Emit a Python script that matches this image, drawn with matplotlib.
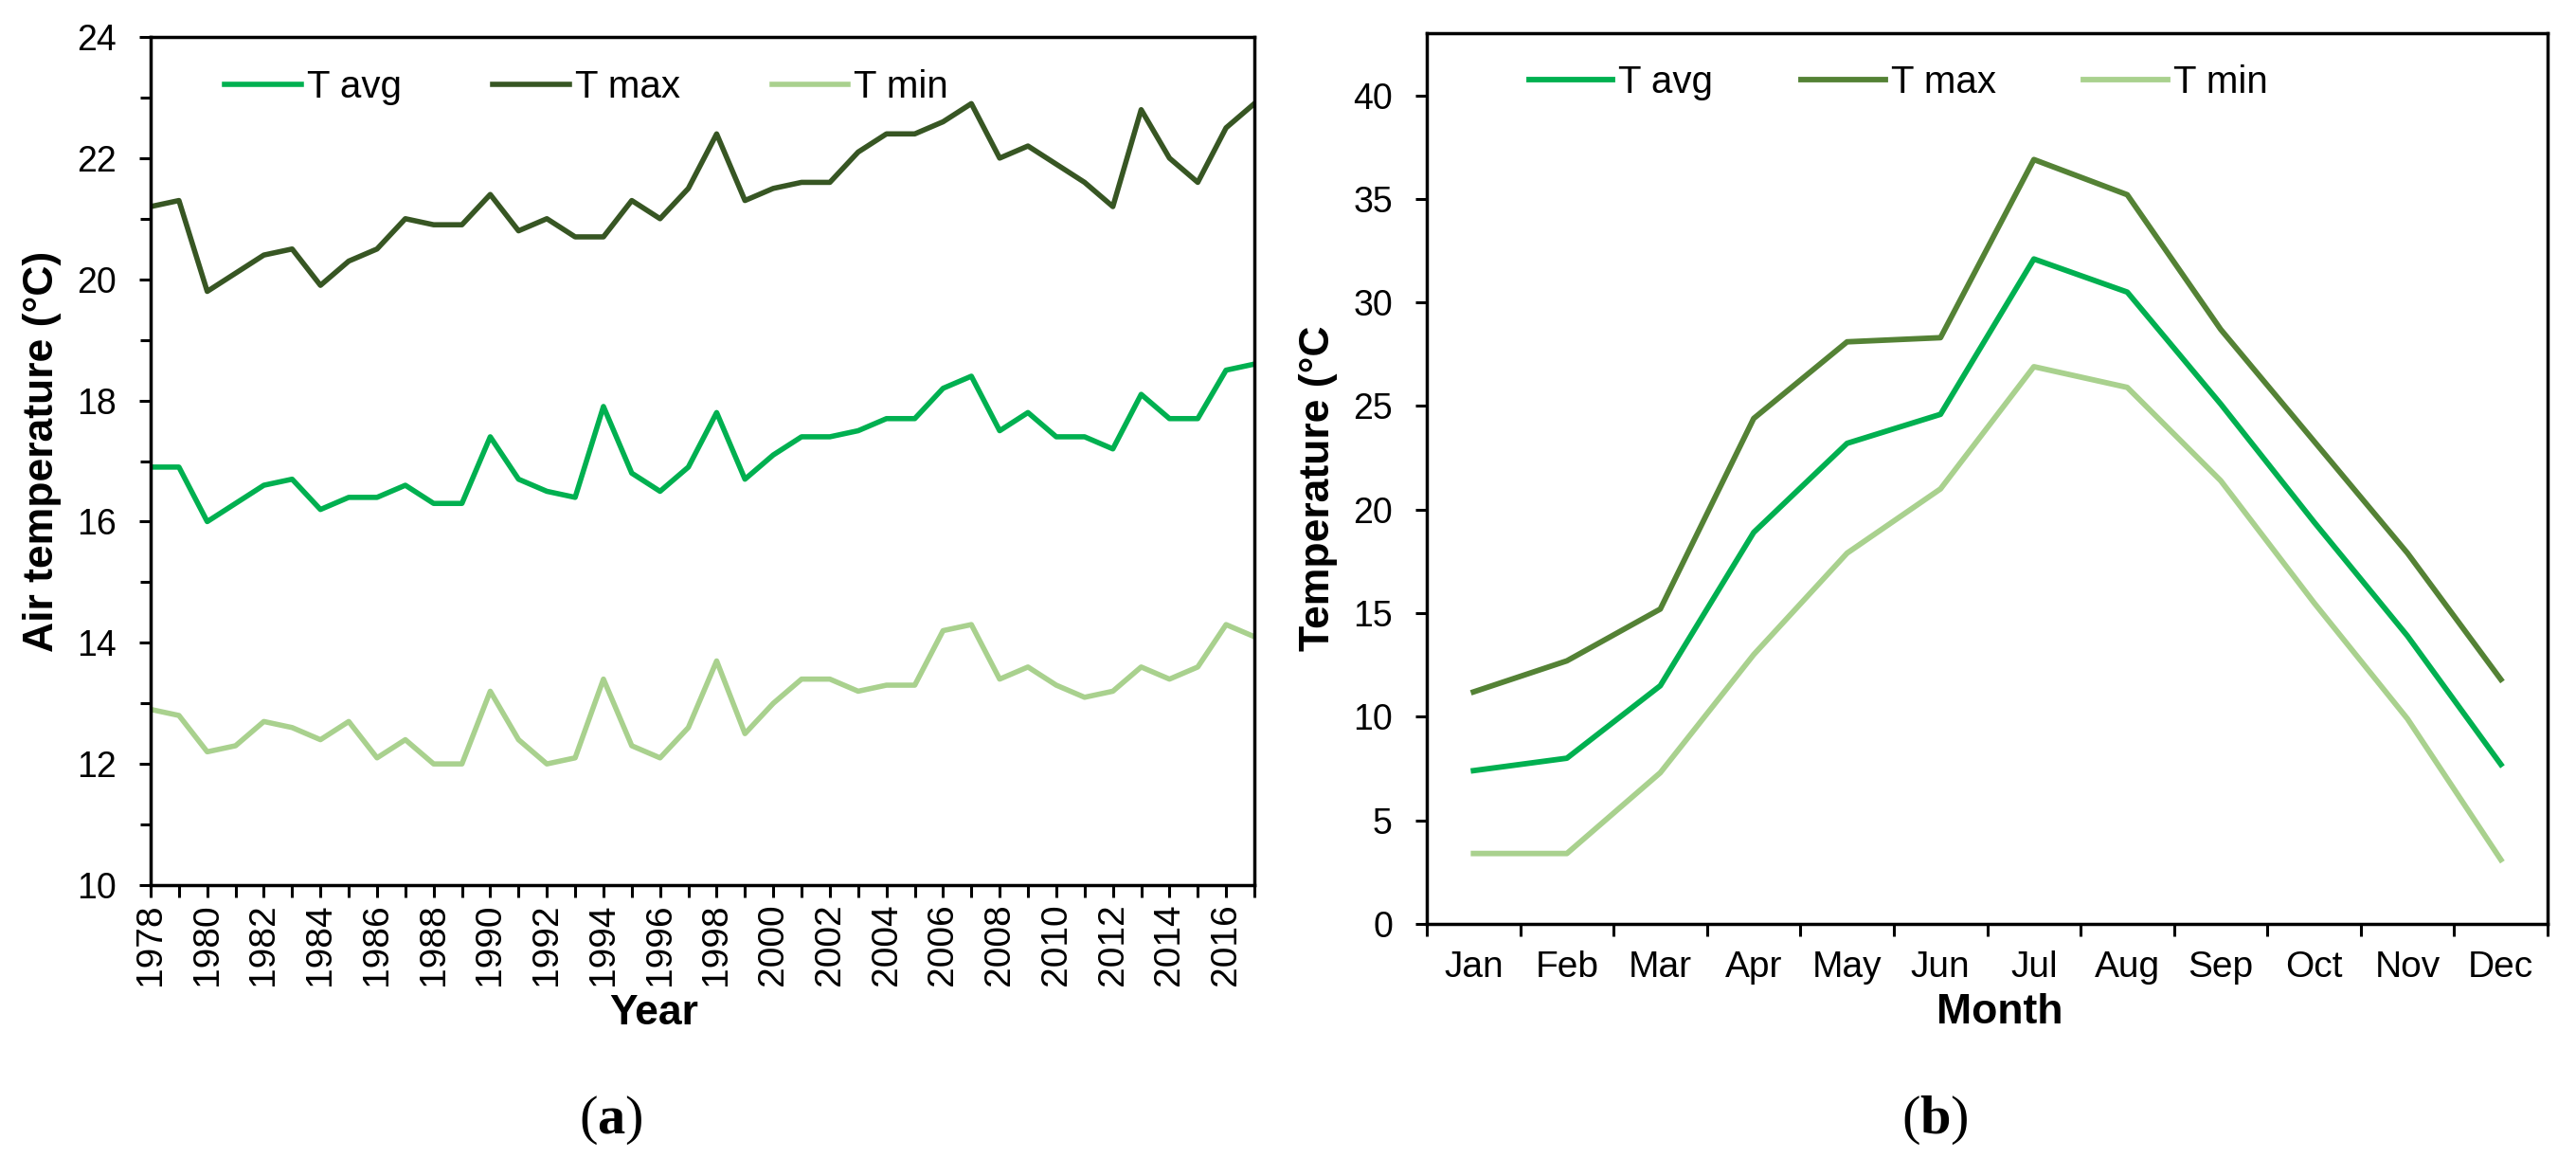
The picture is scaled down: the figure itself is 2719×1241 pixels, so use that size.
import numpy as np
import matplotlib
matplotlib.use("Agg")
import matplotlib.pyplot as plt
from matplotlib.ticker import MultipleLocator, FixedLocator

plt.rcParams['font.family'] = ['Liberation Sans', 'DejaVu Sans']
plt.rcParams['mathtext.fontset'] = 'custom'
plt.rcParams['mathtext.rm'] = 'Liberation Serif'
plt.rcParams['mathtext.bf'] = 'Liberation Serif:bold'

# ---- data ----
years = list(range(1978, 2018))
t_avg_year = [16.9, 16.9, 16.0, 16.3, 16.6, 16.7, 16.2, 16.4, 16.4, 16.6,
              16.3, 16.3, 17.4, 16.7, 16.5, 16.4, 17.9, 16.8, 16.5, 16.9,
              17.8, 16.7, 17.1, 17.4, 17.4, 17.5, 17.7, 17.7, 18.2, 18.4,
              17.5, 17.8, 17.4, 17.4, 17.2, 18.1, 17.7, 17.7, 18.5, 18.6]
t_max_year = [21.2, 21.3, 19.8, 20.1, 20.4, 20.5, 19.9, 20.3, 20.5, 21.0,
              20.9, 20.9, 21.4, 20.8, 21.0, 20.7, 20.7, 21.3, 21.0, 21.5,
              22.4, 21.3, 21.5, 21.6, 21.6, 22.1, 22.4, 22.4, 22.6, 22.9,
              22.0, 22.2, 21.9, 21.6, 21.2, 22.8, 22.0, 21.6, 22.5, 22.9]
t_min_year = [12.9, 12.8, 12.2, 12.3, 12.7, 12.6, 12.4, 12.7, 12.1, 12.4,
              12.0, 12.0, 13.2, 12.4, 12.0, 12.1, 13.4, 12.3, 12.1, 12.6,
              13.7, 12.5, 13.0, 13.4, 13.4, 13.2, 13.3, 13.3, 14.2, 14.3,
              13.4, 13.6, 13.3, 13.1, 13.2, 13.6, 13.4, 13.6, 14.3, 14.1]

months = ['Jan', 'Feb', 'Mar', 'Apr', 'May', 'Jun',
          'Jul', 'Aug', 'Sep', 'Oct', 'Nov', 'Dec']
t_avg_month = [7.4, 8.0, 11.5, 18.9, 23.2, 24.6, 32.1, 30.5, 25.1, 19.4, 13.9, 7.7]
t_max_month = [11.2, 12.7, 15.2, 24.4, 28.1, 28.3, 36.9, 35.2, 28.7, 23.3, 17.9, 11.8]
t_min_month = [3.4, 3.4, 7.3, 13.0, 17.9, 21.0, 26.9, 25.9, 21.4, 15.5, 9.9, 3.1]

# colours
c_avg = '#00B050'
c_max_a = '#375623'
c_max_b = '#548235'
c_min = '#A9D18E'

W, H = 2719, 1241
fig = plt.figure(figsize=(W / 100, H / 100), dpi=100)


def px_axes(x0, y0, x1, y1):
    # pixel box (left, top, right, bottom) -> figure fraction
    return fig.add_axes([x0 / W, 1 - y1 / H, (x1 - x0) / W, (y1 - y0) / H])


def style_axes(ax):
    for sp in ax.spines.values():
        sp.set_linewidth(2.5)
        sp.set_color('black')
    ax.tick_params(which='both', direction='out', width=2.2, color='black',
                   labelsize=27)


# ---------------- panel (a) ----------------
ax1 = px_axes(159, 39, 1324, 934)
ax1.plot(years, t_avg_year, color=c_avg, lw=4, label='T avg')
ax1.plot(years, t_max_year, color=c_max_a, lw=4, label='T max')
ax1.plot(years, t_min_year, color=c_min, lw=4, label='T min')
ax1.set_xlim(1978, 2017)
ax1.set_ylim(10, 24)
ax1.yaxis.set_major_locator(MultipleLocator(2))
ax1.yaxis.set_minor_locator(MultipleLocator(1))
ax1.xaxis.set_major_locator(FixedLocator(years[::2]))
ax1.xaxis.set_minor_locator(FixedLocator(years))
style_axes(ax1)
ax1.tick_params(axis='y', which='major', length=9, pad=17)
ax1.tick_params(axis='y', which='minor', length=8)
ax1.tick_params(axis='x', which='both', length=9, pad=5)
ax1.tick_params(axis='x', labelsize=28, labelrotation=90)
ax1.set_xticklabels([str(y) for y in years[::2]])
ax1.set_xlabel('Year', fontsize=32, fontweight='bold')
ax1.xaxis.set_label_coords(0.456, -0.128)
ax1.set_ylabel('Air temperature (°C)', fontsize=32, fontweight='bold')
ax1.yaxis.set_label_coords(-0.081, 0.511)
ax1.legend(loc='center left', bbox_to_anchor=(0.067, 0.941), ncol=3,
           frameon=False, fontsize=29, handlelength=2.0, handletextpad=0.15,
           columnspacing=2.4, borderpad=0, borderaxespad=0)

# ---------------- panel (b) ----------------
ax2 = px_axes(1506, 35, 2689, 975)
xpos = np.arange(len(months))
ax2.plot(xpos, t_avg_month, color=c_avg, lw=4.2, label='T avg')
ax2.plot(xpos, t_max_month, color=c_max_b, lw=4.2, label='T max')
ax2.plot(xpos, t_min_month, color=c_min, lw=4.2, label='T min')
ax2.set_xlim(-0.5, len(months) - 0.5)
ax2.set_ylim(0, 43)
ax2.yaxis.set_major_locator(FixedLocator(range(0, 41, 5)))
ax2.set_xticks(xpos)
ax2.set_xticklabels(months)
ax2.set_xticks(np.arange(-0.5, len(months)), minor=True)
style_axes(ax2)
ax2.tick_params(axis='y', length=9, pad=17)
ax2.tick_params(axis='x', which='major', length=0, pad=20, labelsize=28)
ax2.tick_params(axis='x', which='minor', length=9)
ax2.set_xlabel('Month', fontsize=32, fontweight='bold')
ax2.xaxis.set_label_coords(0.511, -0.078)
ax2.set_ylabel('Temperature (°C', fontsize=32, fontweight='bold')
ax2.yaxis.set_label_coords(-0.0795, 0.489)
ax2.legend(loc='center left', bbox_to_anchor=(0.091, 0.945), ncol=3,
           frameon=False, fontsize=29, handlelength=2.2, handletextpad=0.15,
           columnspacing=2.3, borderpad=0, borderaxespad=0)

# panel captions
fig.text(645 / W, 1 - 1182 / H, r'($\mathbf{a}$)', fontsize=42,
         ha='center', va='center', family='Liberation Serif')
fig.text(2042 / W, 1 - 1182 / H, r'($\mathbf{b}$)', fontsize=42,
         ha='center', va='center', family='Liberation Serif')

fig.savefig('out.png', dpi=100, facecolor='white')
